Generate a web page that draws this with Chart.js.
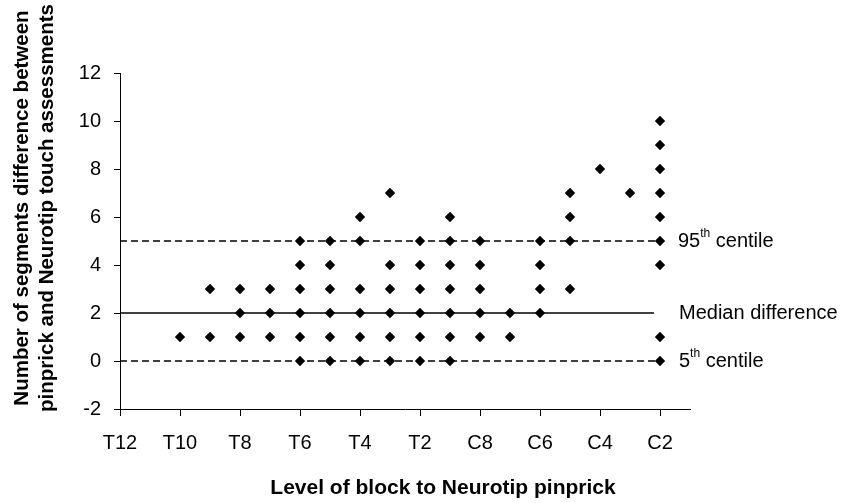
<!DOCTYPE html>
<html>
<head>
<meta charset="utf-8">
<script src="https://cdn.jsdelivr.net/npm/chart.js@4"></script>
<style>
  body { margin: 0; background: #fff; }
  #wrap { width: 841px; height: 503px; }
</style>
</head>
<body>
<div id="wrap"><canvas id="scatterChart"></canvas></div>
<script>
// spinal levels along the x axis, one slot per level
var levels = ['T12', 'T11', 'T10', 'T9', 'T8', 'T7', 'T6', 'T5', 'T4', 'T3',
  'T2', 'T1', 'C8', 'C7', 'C6', 'C5', 'C4', 'C3', 'C2'];

// segment differences observed at each level
var differences = [
  [],                       // T12
  [],                       // T11
  [1],                      // T10
  [3, 1],                   // T9
  [3, 2, 1],                // T8
  [3, 2, 1],                // T7
  [5, 4, 3, 2, 1, 0],       // T6
  [5, 4, 3, 2, 1, 0],       // T5
  [6, 5, 3, 2, 1, 0],       // T4
  [7, 4, 3, 2, 1, 0],       // T3
  [5, 4, 3, 2, 1, 0],       // T2
  [6, 5, 4, 3, 2, 1, 0],    // T1
  [5, 4, 3, 2, 1],          // C8
  [2, 1],                   // C7
  [5, 4, 3, 2],             // C6
  [7, 6, 5, 3],             // C5
  [8],                      // C4
  [7],                      // C3
  [10, 9, 8, 7, 6, 5, 4, 1, 0] // C2
];

var centile95 = 5;
var medianDiff = 2;
var centile5 = 0;
var centileEnd = 18;
var medianEnd = 17.8;

var yTicks = [-2, 0, 2, 4, 6, 8, 10, 12];

var points = [];
differences.forEach(function(vals, i) {
  vals.forEach(function(v) { points.push({ x: i, y: v }); });
});

function refLine(value, end, dashed) {
  return {
    type: 'line',
    data: [{ x: 0, y: value }, { x: end, y: value }],
    borderColor: '#000',
    borderWidth: dashed ? 1.5 : 1.5,
    borderDash: dashed ? [7, 4] : [],
    pointRadius: 0,
    fill: false
  };
}

var FONT = "'Liberation Sans', Arial, Helvetica, sans-serif";

// titles and right-hand labels (with superscripts)
var textPlugin = {
  id: 'texts',
  afterDraw: function(chart) {
    var ctx = chart.ctx;
    var ys = chart.scales.y;
    ctx.save();
    ctx.fillStyle = '#000';

    // x axis title
    ctx.font = 'bold 21px ' + FONT;
    ctx.textAlign = 'center';
    ctx.textBaseline = 'middle';
    ctx.fillText('Level of block to Neurotip pinprick', 443, 488);

    // y axis title, two lines
    ctx.font = 'bold 20.5px ' + FONT;
    ctx.save();
    ctx.translate(0, 208);
    ctx.rotate(-Math.PI / 2);
    ctx.fillText('Number of segments difference between', 0, 22);
    ctx.fillText('pinprick and Neurotip touch assessments', 0, 47);
    ctx.restore();

    // right labels
    ctx.textAlign = 'left';
    ctx.textBaseline = 'middle';
    function sup(x, y, base, s, rest) {
      ctx.font = '20px ' + FONT;
      ctx.fillText(base, x, y);
      x += ctx.measureText(base).width;
      ctx.font = '12px ' + FONT;
      ctx.fillText(s, x, y - 7);
      x += ctx.measureText(s).width;
      ctx.font = '20px ' + FONT;
      ctx.fillText(rest, x, y);
    }
    sup(678, ys.getPixelForValue(centile95), '95', 'th', ' centile');
    ctx.font = '20px ' + FONT;
    ctx.fillText('Median difference', 679, ys.getPixelForValue(medianDiff));
    sup(679, ys.getPixelForValue(centile5), '5', 'th', ' centile');
    ctx.restore();
  }
};

var chart = new Chart(document.getElementById('scatterChart').getContext('2d'), {
  type: 'scatter',
  data: {
    datasets: [
      refLine(centile95, centileEnd, true),
      refLine(medianDiff, medianEnd, false),
      refLine(centile5, centileEnd, true),
      {
        data: points,
        pointStyle: 'rectRot',
        pointRadius: 5.2,
        pointHoverRadius: 5.2,
        backgroundColor: '#000',
        borderWidth: 0
      }
    ]
  },
  options: {
    responsive: true,
    maintainAspectRatio: false,
    animation: false,
    layout: { padding: { top: 73, right: 151, bottom: 0, left: 0 } },
    plugins: {
      legend: { display: false },
      tooltip: { enabled: false }
    },
    scales: {
      x: {
        type: 'linear',
        min: 0,
        max: levels.length,
        border: { display: true, color: '#000', width: 1 },
        grid: { drawOnChartArea: false, drawTicks: true, tickLength: 7, color: '#000' },
        ticks: {
          stepSize: 2,
          includeBounds: false,
          autoSkip: false,
          maxRotation: 0,
          padding: 15,
          color: '#000',
          font: { family: FONT, size: 20 },
          callback: function(v) { return levels[v]; }
        },
        afterFit: function(s) { s.height = 94; }
      },
      y: {
        min: yTicks[0],
        max: yTicks[yTicks.length - 1],
        border: { display: true, color: '#000', width: 1 },
        grid: { drawOnChartArea: false, drawTicks: true, tickLength: 6, color: '#000' },
        afterBuildTicks: function(s) {
          s.ticks = yTicks.map(function(v) { return { value: v }; });
        },
        ticks: {
          padding: 13,
          color: '#000',
          font: { family: FONT, size: 20 }
        },
        afterFit: function(s) { s.width = 120; }
      }
    }
  },
  plugins: [textPlugin]
});
</script>
</body>
</html>
